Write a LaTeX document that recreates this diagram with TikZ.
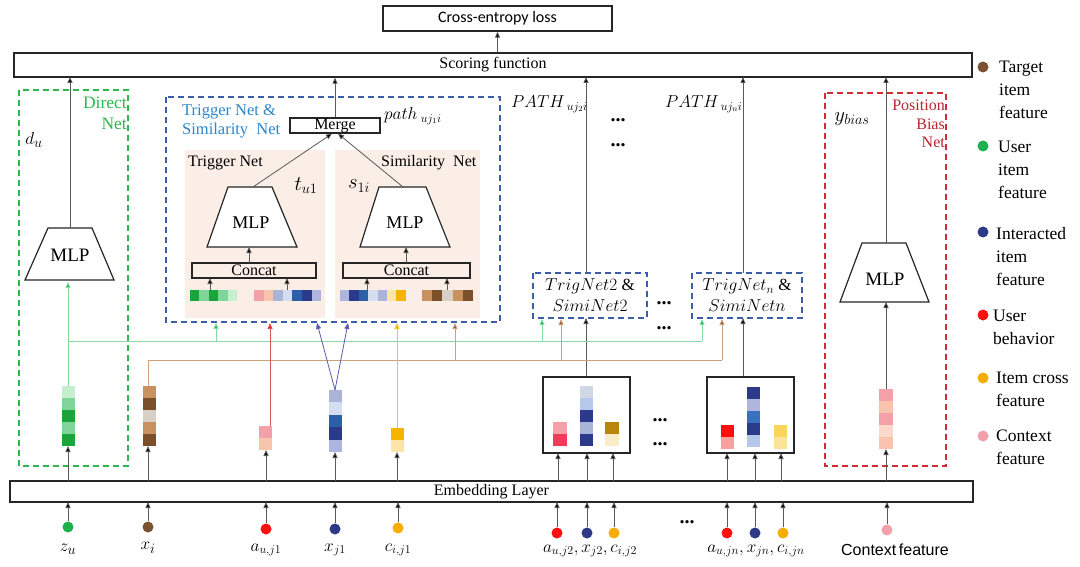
\documentclass[tikz,border=0pt]{standalone}
\usepackage{fontspec}
\setmainfont{Liberation Serif}
\newfontfamily\carlito{Carlito}
\newfontfamily\arialf{Liberation Sans}
\usetikzlibrary{arrows.meta,calc}
\definecolor{gA}{HTML}{1AA53A}\definecolor{gB}{HTML}{7FD49A}\definecolor{gC}{HTML}{C6EFCF}
\definecolor{bA}{HTML}{7B4F2A}\definecolor{bB}{HTML}{C8915E}\definecolor{bC}{HTML}{D8CFC6}
\definecolor{nv}{HTML}{2B3A8A}\definecolor{blA}{HTML}{2D5EA8}\definecolor{blB}{HTML}{3A70C0}
\definecolor{gb}{HTML}{A9B4D6}\definecolor{lbA}{HTML}{D4DEF0}\definecolor{lav}{HTML}{B0B5E0}
\definecolor{lbB}{HTML}{B5C8EA}\definecolor{lbC}{HTML}{D0D8E6}
\definecolor{pkA}{HTML}{F4A0A8}\definecolor{pcA}{HTML}{F9C4AE}\definecolor{pcB}{HTML}{FBD8CC}
\definecolor{rdA}{HTML}{F03C5A}\definecolor{rdB}{HTML}{FF1010}\definecolor{pkB}{HTML}{F8A0A0}
\definecolor{orA}{HTML}{F5B400}\definecolor{lyA}{HTML}{FDE5A8}\definecolor{gdA}{HTML}{B8860B}
\definecolor{lyB}{HTML}{F9ECC8}\definecolor{yA}{HTML}{F9D65A}\definecolor{yB}{HTML}{FBE39A}
\definecolor{bgpk}{HTML}{FBEEE6}
\definecolor{dgreen}{HTML}{2DB84D}\definecolor{lgreen}{HTML}{86D9A0}
\definecolor{dblue}{HTML}{3A5FA8}\definecolor{tblue}{HTML}{2E86C8}
\definecolor{dred}{HTML}{D02C34}\definecolor{trd}{HTML}{B8262E}
\definecolor{brn}{HTML}{8B5A2B}\definecolor{lbrn}{HTML}{C9A07E}
\definecolor{purp}{HTML}{5A5AAE}\definecolor{circbrn}{HTML}{7B5230}
\definecolor{circgr}{HTML}{1DB14B}\definecolor{circnv}{HTML}{2E3A87}
\definecolor{circor}{HTML}{F5AE00}\definecolor{circpk}{HTML}{F4A0AC}
\newcommand\vstack[5]{\foreach \c [count=\i from 0] in {#5} {\fill[\c] (#1,#2+\i*#4) rectangle ++(#3,#4);}}
\newcommand\hrow[5]{\foreach \c [count=\i from 0] in {#5} {\fill[\c] (#1+\i*#3,#2) rectangle ++(#3,#4);}}
\begin{document}
\begin{tikzpicture}[x=1pt,y=-1pt,
  box/.style={draw=black!85,line width=1.3pt,inner sep=0pt,font=\fontsize{16}{17}\selectfont},
  arr/.style={draw=black!65,line width=0.8pt,-{Triangle[length=6pt,width=5pt,fill=black]}},
  garr/.style={draw=lgreen,line width=0.9pt,-{Triangle[length=6pt,width=5pt,fill=circgr]}},
  brarr/.style={draw=lbrn,line width=0.9pt,-{Triangle[length=6pt,width=5pt,fill=brn]}},
  dashbox/.style={line width=1.6pt,dash pattern=on 6pt off 4pt},
  mlp/.style={draw=black!85,line width=1.2pt,fill=white},
  lbl/.style={inner sep=0pt,font=\fontsize{16}{17}\selectfont},
  leg/.style={inner sep=0pt,anchor=north west,align=left,font=\fontsize{17.5}{23}\selectfont},
  dots/.style={inner sep=0pt,font=\fontsize{20}{20}\selectfont\bfseries},
  dot/.style={circle,inner sep=0pt,minimum size=11pt}]
\useasboundingbox (0,0) rectangle (1080,567);
\fill[white] (0,0) rectangle (1080,567);
% top boxes
\node[box,minimum width=229pt,minimum height=25pt,font=\carlito\fontsize{16}{17}\selectfont] (ce) at (497.5,18.5) {Cross-entropy loss};
\node[box,minimum width=958pt,minimum height=24pt] (score) at (493,65) {Scoring function};
\node[box,minimum width=963pt,minimum height=21pt] (emb) at (491.5,491.5) {Embedding Layer};
\draw[arr] (ce.south |- score.north) -- (ce.south);
% dashed boxes
\draw[dashbox,draw=dgreen] (19,90) rectangle (128,466);
\node[lbl,anchor=north east,align=right,text=dgreen,font=\fontsize{17.5}{21}\selectfont] (dnl) at (127,97) {Direct\\Net};
\node[lbl,font=\fontsize{19}{19}\selectfont] (du) at (34,140) {$d_u$};
\draw[dashbox,draw=dblue] (166,97) rectangle (500,322);
\node[lbl,anchor=north west,align=left,text=tblue,font=\fontsize{16.5}{19.5}\selectfont] (tsl) at (182,104) {Trigger Net \&\\Similarity\ \ Net};
\draw[dashbox,draw=dred] (825,93) rectangle (946,466);
\node[lbl,anchor=north east,align=right,text=trd,font=\fontsize{16}{18.5}\selectfont] (pbl) at (945,100) {Position\\Bias\\Net};
\node[lbl,font=\fontsize{20}{20}\selectfont] (yb) at (852,119) {$y_{bias}$};
% pink backgrounds
\fill[bgpk] (185,150) rectangle (325,318);
\fill[bgpk] (335,150) rectangle (480,318);
\node[lbl,anchor=west] (tnl) at (188,163) {Trigger Net};
\node[lbl,anchor=west] (snl) at (381,163) {Similarity\ \ Net};
\node[lbl,font=\fontsize{22}{22}\selectfont] (tu) at (306,186) {$t_{u1}$};
\node[lbl,font=\fontsize{22}{22}\selectfont] (s1) at (359,186) {$s_{1i}$};
% merge
\node[box,minimum width=90pt,minimum height=15pt] (merge) at (335,125.5) {Merge};
\node[lbl,anchor=west,font=\fontsize{17}{17}\selectfont] (pl) at (384,116) {$path_{\;uj_1i}$};
\draw[arr] (merge.north) -- (merge.north |- score.south);
% direct net MLP
\draw[mlp] (25,280) -- (48,228) -- (92,228) -- (114,280) -- cycle;
\node[lbl,font=\fontsize{19}{19}\selectfont] (mlpd) at (70,255) {MLP};
\draw[arr] (70,228) -- (70,77);
% trigger/sim MLPs
\draw[mlp] (207,247) -- (228,187) -- (272,187) -- (297,247) -- cycle;
\node[lbl,font=\fontsize{18}{18}\selectfont] (mlpt) at (251,223) {MLP};
\draw[mlp] (360,247) -- (379,187) -- (426,187) -- (450,247) -- cycle;
\node[lbl,font=\fontsize{18}{18}\selectfont] (mlps) at (405,223) {MLP};
\draw[arr] (253,187) -- ($(merge.south)+(-3,0)$);
\draw[arr] (403,187) -- ($(merge.south)+(3,0)$);
\node[box,minimum width=124pt,minimum height=15pt] (ccl) at (254,270.5) {Concat};
\node[box,minimum width=127pt,minimum height=15pt] (ccr) at (406.5,270.5) {Concat};
\draw[arr] (249,263) -- (249,247);
\draw[arr] (406,263) -- (406,247);
\hrow{190}{290}{9.4}{11}{gA,gB,gA,gB,gC}
\hrow{254}{290}{9.6}{11}{pkA,pcA,gb,lbA,blA,nv,lav}
\hrow{340}{290}{9.4}{11}{lav,nv,blA,lbA,gb,lyA,orA}
\hrow{422}{290}{10.2}{11}{bB,bA,bC,bB,bA}
\draw[arr] (210,290) -- (210,278);
\draw[arr] (287,290) -- (287,278);
\draw[arr] (367,290) -- (367,278);
\draw[arr] (447,290) -- (447,278);
% PATH labels
\node[lbl,anchor=west,font=\fontsize{17}{17}\selectfont] (p2) at (511,104) {$PATH_{\;uj_2i}$};
\node[lbl,anchor=west,font=\fontsize{17}{17}\selectfont] (pn) at (665,104) {$PATH_{\;uj_ni}$};
\node[dots] (d1) at (618,120) {...};
\node[dots] (d2) at (618,145) {...};
% TrigNet boxes
\draw[dashbox,draw=dblue] (533,273) rectangle (647,318);
\node[lbl,align=center,font=\fontsize{17}{21}\selectfont] (tn2) at (590,295.5) {$TrigNet2$ \&\\$SimiNet2$};
\draw[dashbox,draw=dblue] (692,273) rectangle (802,318);
\node[lbl,align=center,font=\fontsize{17}{21}\selectfont] (tnn) at (747,295.5) {$TrigNet_n$ \&\\$SimiNetn$};
\node[dots] (d3) at (664,303) {...};
\node[dots] (d4) at (664,328) {...};
\draw[arr] (586,273) -- (586,77);
\draw[arr] (743,273) -- (743,77);
% feature boxes
\node[box,minimum width=87pt,minimum height=76pt] (fb2) at (586.5,415) {};
\node[box,minimum width=87pt,minimum height=76pt] (fbn) at (750.5,415) {};
\vstack{553}{422}{14}{12}{pkA,rdA}
\vstack{580}{386}{13}{12}{lbC,lbB,nv,gb,nv}
\vstack{605}{422}{14}{12}{gdA,lyB}
\vstack{721}{425}{13}{12}{rdB,pkB}
\vstack{747}{387}{13}{12}{nv,lav,blB,nv,lbB}
\vstack{774}{425}{13}{12}{yA,yB}
\node[dots] (d5) at (660,420) {...};
\node[dots] (d6) at (660,444) {...};
\draw[arr] (fb2.north -| 586,0) -- (586,318);
\draw[arr] (fbn.north -| 743,0) -- (743,318);
% PB net MLP
\draw[mlp] (840,302) -- (862,243) -- (906,243) -- (929,302) -- cycle;
\node[lbl,font=\fontsize{19}{19}\selectfont] (mlpp) at (885,279) {MLP};
\draw[arr] (886,243) -- (886,77);
\vstack{879}{389}{14}{12}{pkA,pcA,pkA,pcB,pcA}
\draw[arr] (886,389) -- (886,302);
% embedding vectors
\vstack{62}{386}{13}{12}{gC,gB,gA,gB,gA}
\vstack{143}{386}{13}{12}{bB,bA,bC,bB,bA}
\vstack{259}{426}{13}{12}{pkA,pcA}
\vstack{329}{390}{13}{12.4}{gb,lbA,blA,nv,lav}
\vstack{391}{428}{13}{12}{orA,lyA}
% emb -> vectors
\foreach \x/\y in {68/446,148/446,266/450,335/452,397/452,558/453,587/453,613/453,727/453,755/453,781/453,886/449}
  \draw[arr] (\x,481) -- (\x,\y);
% green path
\draw[garr] (68,386) -- (68,282);
\draw[lgreen,line width=0.9pt] (68,341) -- (702,341);
\draw[garr] (216,341) -- (216,323);
\draw[garr] (542,341) -- (542,319);
\draw[garr] (702,341) -- (702,319);
% brown path
\draw[lbrn,line width=0.9pt] (148,386) -- (148,360) -- (722,360);
\draw[brarr] (455,360) -- (455,323);
\draw[brarr] (561,360) -- (561,319);
\draw[brarr] (722,360) -- (722,319);
% red / purple / yellow
\draw[draw=dred!80,line width=0.9pt,-{Triangle[length=6pt,width=5pt,fill=rdB]}] (270,426) -- (270,323);
\draw[draw=purp,line width=0.8pt,-{Triangle[length=6pt,width=5pt,fill=purp]}] (335,390) -- (317,323);
\draw[draw=purp,line width=0.8pt,-{Triangle[length=6pt,width=5pt,fill=purp]}] (335,390) -- (348,323);
\draw[draw=orA!80,line width=0.9pt,-{Triangle[length=6pt,width=5pt,fill=orA]}] (397,428) -- (397,323);
% input circles
\foreach \n/\x/\y/\c in {zu/68/527/circgr, xi/148/527/circbrn, a1/266/529/rdB, x1/335/529/circnv, c1/398/528/circor,
  a2/557/533/rdB, x2/587/533/circnv, c2/614/533/circor, an/727/533/rdB, xn/755/533/circnv, cn/783/533/circor, ctx/887/530/circpk}
  {\node[dot,fill=\c] (in\n) at (\x,\y) {};
   \draw[arr] (in\n.north) -- (\x,502);}
\node[dots] (d7) at (687,522) {...};
\node[lbl,font=\fontsize{19}{19}\selectfont] (lzu) at (68,549) {$z_u$};
\node[lbl,font=\fontsize{19}{19}\selectfont] (lxi) at (148,548) {$x_i$};
\node[lbl,font=\fontsize{17}{17}\selectfont] (la1) at (266,550) {$a_{u,j1}$};
\node[lbl,font=\fontsize{17}{17}\selectfont] (lx1) at (335,550) {$x_{j1}$};
\node[lbl,font=\fontsize{17}{17}\selectfont] (lc1) at (398,550) {$c_{i,j1}$};
\node[lbl,font=\fontsize{17}{17}\selectfont] (l2) at (590,551) {$a_{u,j2}, x_{j2}, c_{i,j2}$};
\node[lbl,font=\fontsize{17}{17}\selectfont] (ln) at (756,551) {$a_{u,jn}, x_{jn}, c_{i,jn}$};
\node[lbl,font=\arialf\fontsize{16}{16}\selectfont] (lctx) at (895,550) {Context\,feature};
% legend
\foreach \n/\y/\c in {l1/67/circbrn, l2/146/circgr, l3/232/circnv, l4/315/rdB, l5/378/circor, l6/436/circpk}
  \node[dot,fill=\c] (leg\n) at (983,\y) {};
\node[leg] (t1) at (999,61) {Target\\item\\feature};
\node[leg] (t2) at (998,141) {User\\item\\feature};
\node[leg] (t3) at (996,227) {Interacted\\item\\feature};
\node[leg] (t4) at (993,310) {User\\behavior};
\node[leg] (t5) at (996,372) {Item cross\\feature};
\node[leg] (t6) at (996,430) {Context\\feature};
\end{tikzpicture}
\end{document}
